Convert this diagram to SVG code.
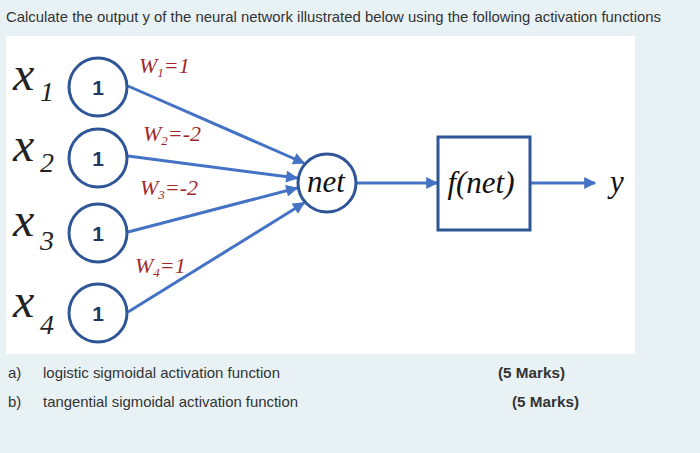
<svg xmlns="http://www.w3.org/2000/svg" width="700" height="453" viewBox="0 0 700 453">
<defs>
<marker id="ah" viewBox="0 0 10 10" refX="9" refY="5" markerWidth="4.5" markerHeight="4" orient="auto" markerUnits="strokeWidth">
<path d="M0,0 L10,5 L0,10 z" fill="#4472c4"/>
</marker>
</defs>
<style>
.bg{fill:#e8f2f5}
.panel{fill:#ffffff}
.q{font-family:"Liberation Sans",Arial,sans-serif;font-size:15px;fill:#333333}
.b{font-weight:bold}
.in{fill:#ffffff;stroke:#2f5597;stroke-width:3}
.one{font-family:"Liberation Sans",Arial,sans-serif;font-size:21px;font-weight:bold;fill:#1f3864;text-anchor:middle}
.xv{font-family:"Liberation Serif","Times New Roman",serif;font-style:italic;font-size:48px;fill:#222}
.xs{font-family:"Liberation Serif","Times New Roman",serif;font-style:italic;font-size:28px;fill:#222}
.w{font-family:"Liberation Serif","Times New Roman",serif;font-style:italic;font-size:22px;fill:#a0282d}
.ws{font-size:13px}
.c{stroke:#4472c4;stroke-width:3;fill:none;marker-end:url(#ah)}
.mt{font-family:"Liberation Serif","Times New Roman",serif;font-style:italic;font-size:31px;fill:#111}
</style>
<rect class="bg" x="0" y="0" width="700" height="453"/>
<rect class="panel" x="6" y="36" width="629" height="318"/>
<text class="q" x="6" y="22" textLength="655" lengthAdjust="spacingAndGlyphs">Calculate the output y of the neural network illustrated below using the following activation functions</text>

<g id="connectors">
<line class="c" x1="128" y1="86" x2="304" y2="163"/>
<line class="c" x1="128" y1="156" x2="297" y2="178"/>
<line class="c" x1="128" y1="232" x2="297" y2="188"/>
<line class="c" x1="128" y1="312" x2="304" y2="203"/>
<line class="c" x1="357" y1="183" x2="437" y2="183"/>
<line class="c" x1="531" y1="183" x2="595" y2="183"/>
</g>

<g id="x1">
<circle class="in" cx="98" cy="87" r="29"/>
<text class="one" x="98" y="95">1</text>
<text class="xv" x="13" y="90">x</text><text class="xs" x="40" y="101">1</text>
</g>
<g id="x2">
<circle class="in" cx="98" cy="158" r="29"/>
<text class="one" x="98" y="166">1</text>
<text class="xv" x="13" y="161">x</text><text class="xs" x="40" y="172">2</text>
</g>
<g id="x3">
<circle class="in" cx="98" cy="233" r="29"/>
<text class="one" x="98" y="241">1</text>
<text class="xv" x="13" y="236">x</text><text class="xs" x="40" y="250">3</text>
</g>
<g id="x4">
<circle class="in" cx="98" cy="313" r="29"/>
<text class="one" x="98" y="321">1</text>
<text class="xv" x="13" y="317">x</text><text class="xs" x="40" y="334">4</text>
</g>

<g id="weights">
<text class="w" x="139" y="73">W<tspan class="ws" dy="4">1</tspan><tspan dy="-4">=1</tspan></text>
<text class="w" x="143" y="141">W<tspan class="ws" dy="4">2</tspan><tspan dy="-4">=-2</tspan></text>
<text class="w" x="140" y="195">W<tspan class="ws" dy="4">3</tspan><tspan dy="-4">=-2</tspan></text>
<text class="w" x="135" y="273">W<tspan class="ws" dy="4">4</tspan><tspan dy="-4">=1</tspan></text>
</g>

<g id="net">
<circle class="in" cx="327" cy="183" r="29"/>
<text class="mt" x="326" y="192" text-anchor="middle">net</text>
</g>
<g id="fnet">
<rect x="438" y="137" width="92" height="93" fill="#ffffff" stroke="#2f5597" stroke-width="3"/>
<text class="mt" x="481" y="193" text-anchor="middle" font-size="33">f(net)</text>
</g>
<g id="y">
<text class="mt" x="610" y="192">y</text>
</g>

<text class="q" x="8" y="378">a)</text>
<text class="q" x="43" y="378" textLength="237" lengthAdjust="spacingAndGlyphs">logistic sigmoidal activation function</text>
<text class="q b" x="498" y="378" textLength="67" lengthAdjust="spacingAndGlyphs">(5 Marks)</text>
<text class="q" x="8" y="407">b)</text>
<text class="q" x="43" y="407" textLength="255" lengthAdjust="spacingAndGlyphs">tangential sigmoidal activation function</text>
<text class="q b" x="512" y="407" textLength="67" lengthAdjust="spacingAndGlyphs">(5 Marks)</text>
</svg>
